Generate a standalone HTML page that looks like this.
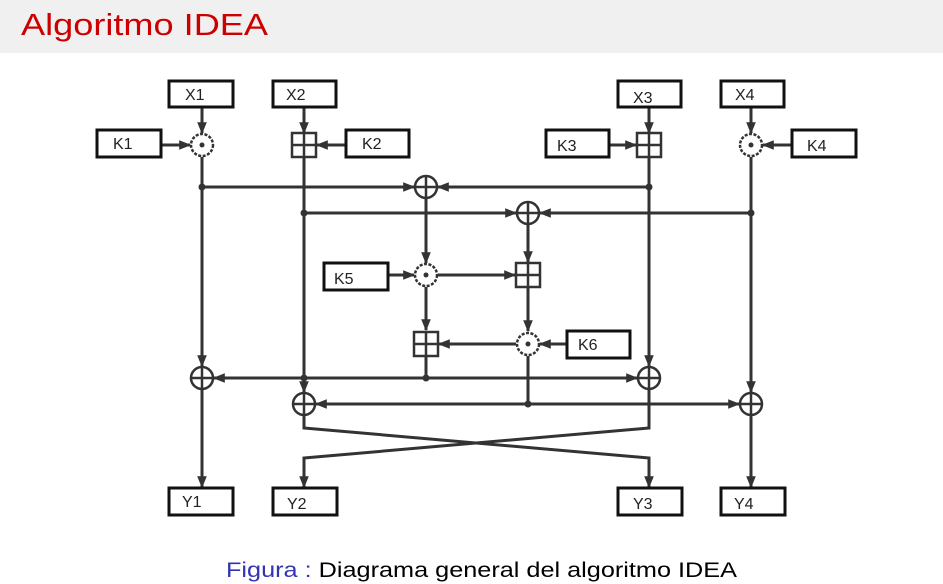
<!DOCTYPE html>
<html><head><meta charset="utf-8"><style>
html,body{margin:0;padding:0;background:#fff;width:943px;height:584px;overflow:hidden}
</style></head><body>
<svg width="943" height="584" viewBox="0 0 943 584" xmlns="http://www.w3.org/2000/svg" font-family="Liberation Sans, sans-serif">
<defs>
<marker id="a" viewBox="0 0 10 10" refX="9" refY="5" markerWidth="4" markerHeight="4" orient="auto" markerUnits="strokeWidth">
<path d="M0,1 L10,5 L0,9 z" fill="#333"/></marker>
</defs>
<rect x="0" y="0" width="943" height="53" fill="#f0f0f0"/>
<text x="21" y="35" font-size="31" fill="#cc0000" textLength="247" lengthAdjust="spacingAndGlyphs">Algoritmo IDEA</text>

<g stroke="#333" stroke-width="3" fill="none">
<!-- input arrows -->
<line x1="202" y1="107" x2="202" y2="133" marker-end="url(#a)"/>
<line x1="304" y1="107" x2="304" y2="133" marker-end="url(#a)"/>
<line x1="649" y1="107" x2="649" y2="133" marker-end="url(#a)"/>
<line x1="751" y1="107" x2="751" y2="133" marker-end="url(#a)"/>
<line x1="161" y1="145" x2="190" y2="145" marker-end="url(#a)"/>
<line x1="346" y1="145" x2="317" y2="145" marker-end="url(#a)"/>
<line x1="609" y1="145" x2="636" y2="145" marker-end="url(#a)"/>
<line x1="792" y1="145" x2="763" y2="145" marker-end="url(#a)"/>
<!-- main verticals -->
<line x1="202" y1="157" x2="202" y2="366" marker-end="url(#a)"/>
<line x1="304" y1="158" x2="304" y2="392" marker-end="url(#a)"/>
<line x1="649" y1="158" x2="649" y2="366" marker-end="url(#a)"/>
<line x1="751" y1="157" x2="751" y2="392" marker-end="url(#a)"/>
<!-- row 187 -->
<line x1="202" y1="187" x2="414" y2="187" marker-end="url(#a)"/>
<line x1="649" y1="187" x2="438" y2="187" marker-end="url(#a)"/>
<!-- row 213 -->
<line x1="304" y1="213" x2="516" y2="213" marker-end="url(#a)"/>
<line x1="751" y1="213" x2="540" y2="213" marker-end="url(#a)"/>
<!-- inner -->
<line x1="426" y1="198" x2="426" y2="263" marker-end="url(#a)"/>
<line x1="528" y1="224" x2="528" y2="262" marker-end="url(#a)"/>
<line x1="388" y1="275" x2="414" y2="275" marker-end="url(#a)"/>
<line x1="438" y1="275" x2="515" y2="275" marker-end="url(#a)"/>
<line x1="426" y1="287" x2="426" y2="330" marker-end="url(#a)"/>
<line x1="528" y1="288" x2="528" y2="331" marker-end="url(#a)"/>
<line x1="566" y1="344" x2="540" y2="344" marker-end="url(#a)"/>
<line x1="516" y1="344" x2="439" y2="344" marker-end="url(#a)"/>
<line x1="426" y1="357" x2="426" y2="378"/>
<line x1="528" y1="356" x2="528" y2="404"/>
<!-- row 378 -->
<line x1="426" y1="378" x2="214" y2="378" marker-end="url(#a)"/>
<line x1="426" y1="378" x2="637" y2="378" marker-end="url(#a)"/>
<!-- row 404 -->
<line x1="528" y1="404" x2="316" y2="404" marker-end="url(#a)"/>
<line x1="528" y1="404" x2="739" y2="404" marker-end="url(#a)"/>
<!-- outputs -->
<line x1="202" y1="390" x2="202" y2="487" marker-end="url(#a)"/>
<line x1="751" y1="416" x2="751" y2="487" marker-end="url(#a)"/>
<polyline points="304,416 304,428 649,458 649,487" marker-end="url(#a)"/>
<polyline points="649,390 649,428 304,458 304,487" marker-end="url(#a)"/>
</g>

<!-- junction dots -->
<g fill="#333">
<circle cx="202" cy="187" r="3.5"/><circle cx="649" cy="187" r="3.5"/>
<circle cx="304" cy="213" r="3.5"/><circle cx="751" cy="213" r="3.5"/>
<circle cx="426" cy="378" r="3.5"/><circle cx="528" cy="404" r="3.5"/>
<circle cx="304" cy="378" r="3.5"/>
</g>

<!-- operators -->
<g stroke="#333" stroke-width="2.5" fill="#fff">
<!-- odot -->
<g><circle cx="202" cy="145" r="11" stroke-dasharray="3 1.5"/><circle cx="202" cy="145" r="2.5" fill="#333" stroke="none"/></g>
<g><circle cx="751" cy="145" r="11" stroke-dasharray="3 1.5"/><circle cx="751" cy="145" r="2.5" fill="#333" stroke="none"/></g>
<g><circle cx="426" cy="275" r="11" stroke-dasharray="3 1.5"/><circle cx="426" cy="275" r="2.5" fill="#333" stroke="none"/></g>
<g><circle cx="528" cy="344" r="11" stroke-dasharray="3 1.5"/><circle cx="528" cy="344" r="2.5" fill="#333" stroke="none"/></g>
<!-- boxplus -->
<g><rect x="292" y="133" width="24" height="24"/><path d="M304,133V157M292,145H316"/></g>
<g><rect x="637" y="133" width="24" height="24"/><path d="M649,133V157M637,145H661"/></g>
<g><rect x="516" y="263" width="24" height="24"/><path d="M528,263V287M516,275H540"/></g>
<g><rect x="414" y="332" width="24" height="24"/><path d="M426,332V356M414,344H438"/></g>
<!-- oplus -->
<g><circle cx="426" cy="187" r="11"/><path d="M426,176V198M415,187H437"/></g>
<g><circle cx="528" cy="213" r="11"/><path d="M528,202V224M517,213H539"/></g>
<g><circle cx="202" cy="378" r="11"/><path d="M202,367V389M191,378H213"/></g>
<g><circle cx="649" cy="378" r="11"/><path d="M649,367V389M638,378H660"/></g>
<g><circle cx="304" cy="404" r="11"/><path d="M304,393V415M293,404H315"/></g>
<g><circle cx="751" cy="404" r="11"/><path d="M751,393V415M740,404H762"/></g>
</g>

<!-- boxes -->
<g stroke="#111" stroke-width="3" fill="#fff">
<rect x="169" y="81" width="64" height="26"/>
<rect x="273" y="81" width="63" height="26"/>
<rect x="618" y="81" width="63" height="26"/>
<rect x="721" y="81" width="63" height="26"/>
<rect x="97" y="130" width="64" height="27"/>
<rect x="346" y="130" width="63" height="27"/>
<rect x="546" y="130" width="63" height="27"/>
<rect x="792" y="130" width="64" height="27"/>
<rect x="324" y="263" width="64" height="27"/>
<rect x="567" y="331" width="63" height="27"/>
<rect x="169" y="488" width="64" height="27"/>
<rect x="273" y="488" width="64" height="27"/>
<rect x="618" y="488" width="64" height="27"/>
<rect x="721" y="488" width="64" height="27"/>
</g>
<g font-size="16" fill="#222">
<text x="185" y="100">X1</text>
<text x="286" y="100">X2</text>
<text x="633" y="103">X3</text>
<text x="735" y="100">X4</text>
<text x="113" y="149">K1</text>
<text x="362" y="149">K2</text>
<text x="557" y="151">K3</text>
<text x="807" y="151">K4</text>
<text x="334" y="284">K5</text>
<text x="578" y="350">K6</text>
<text x="182" y="507">Y1</text>
<text x="287" y="509">Y2</text>
<text x="633" y="509">Y3</text>
<text x="734" y="509">Y4</text>
</g>

<text x="226" y="577" font-size="21" textLength="511" lengthAdjust="spacingAndGlyphs"><tspan fill="#3333b3">Figura :</tspan><tspan fill="#000"> Diagrama general del algoritmo IDEA</tspan></text>
</svg>
</body></html>
